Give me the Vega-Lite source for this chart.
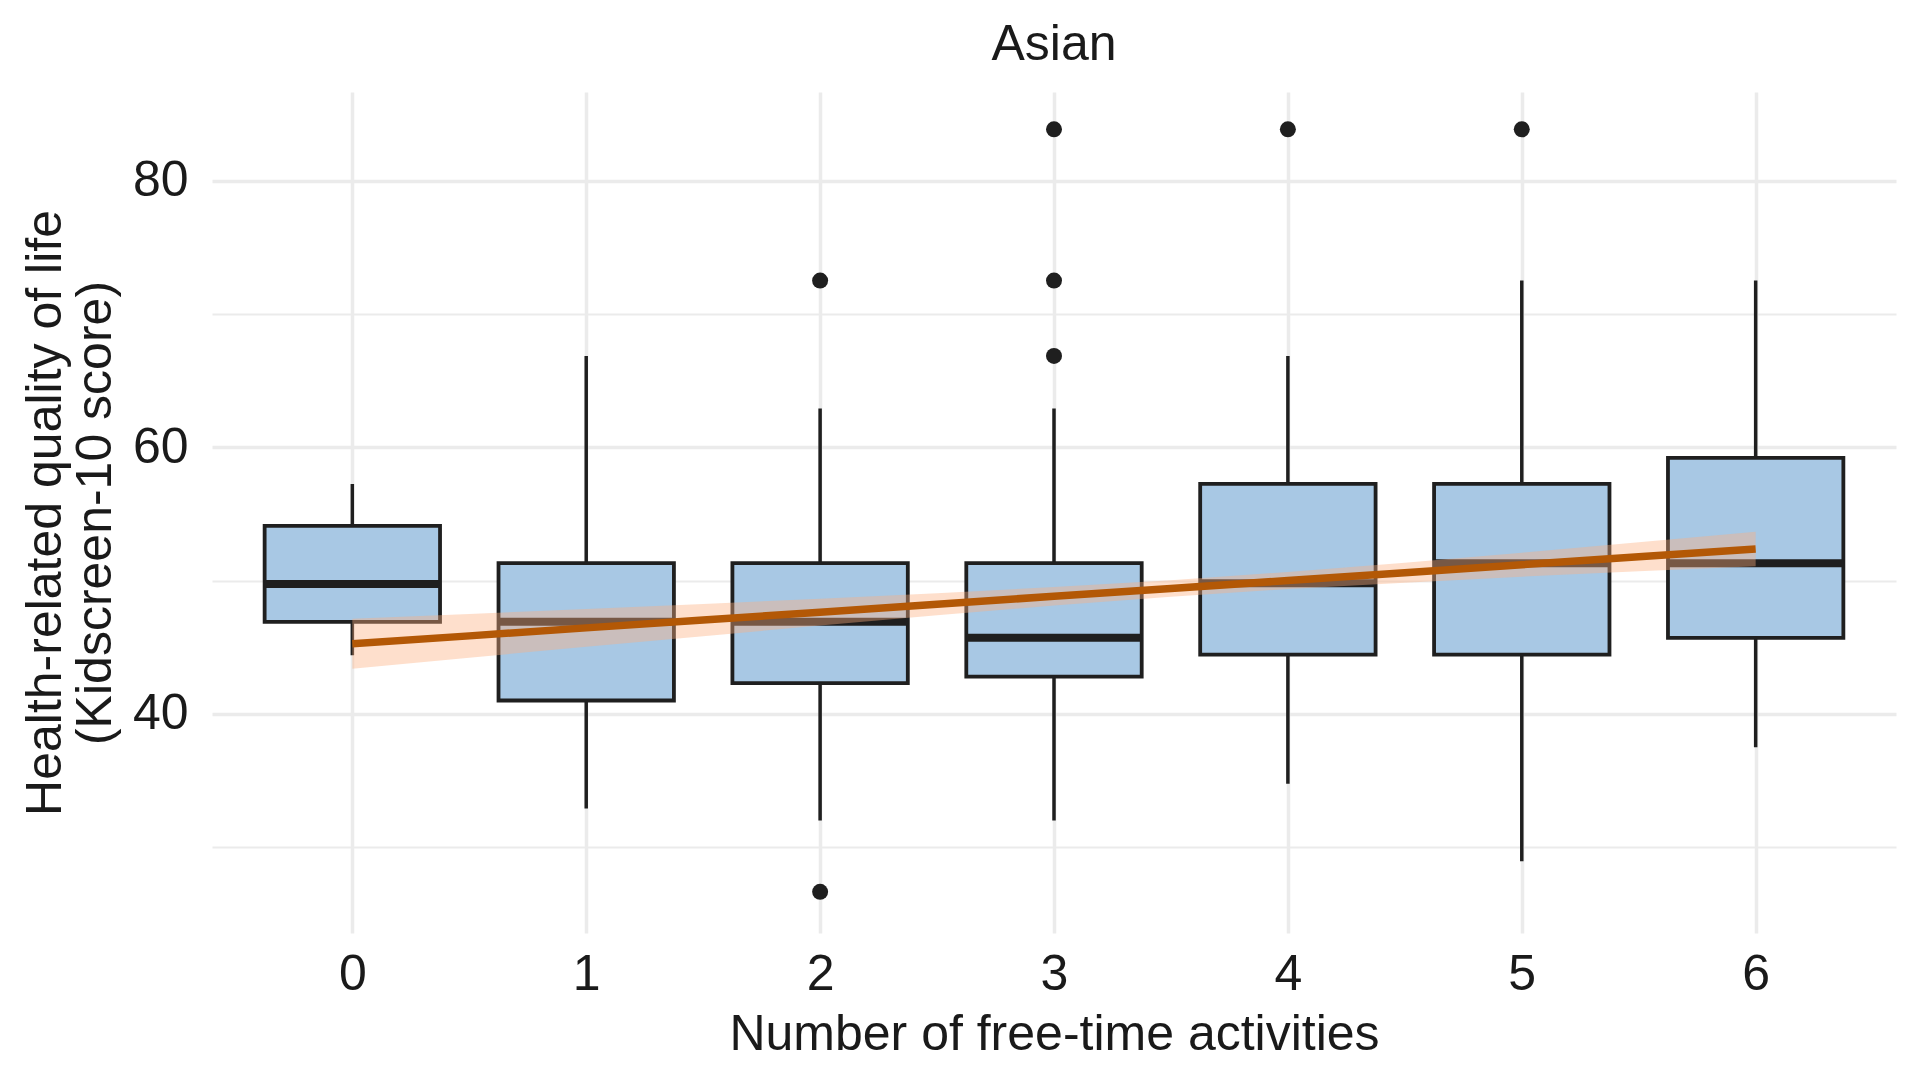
{
  "$schema": "https://vega.github.io/schema/vega-lite/v6.json",
  "width": 1684,
  "height": 841,
  "autosize": {"type": "none"},
  "padding": {"left": 212, "top": 92, "right": 24, "bottom": 147},
  "background": "white",
  "config": {
    "view": {"stroke": null},
    "font": "Liberation Sans",
    "axis": {
      "labelFont": "Liberation Sans",
      "titleFont": "Liberation Sans",
      "labelFontSize": 50,
      "titleFontSize": 50,
      "titleFontWeight": "normal",
      "labelColor": "#1a1a1a",
      "titleColor": "#1a1a1a",
      "ticks": false,
      "domain": false,
      "grid": true,
      "gridColor": "#ebebeb",
      "labelOverlap": false,
      "labelFlush": false
    }
  },
  "title": {
    "text": "Asian",
    "fontSize": 50,
    "fontWeight": "normal",
    "font": "Liberation Sans",
    "color": "#1a1a1a",
    "anchor": "middle",
    "frame": "group",
    "baseline": "alphabetic",
    "offset": -18
  },
  "datasets": {
    "boxes": [
      {"activities": 0, "lower": 44.4, "q1": 46.9, "median": 49.75, "q3": 54.1, "upper": 57.25},
      {"activities": 1, "lower": 32.9, "q1": 41.0, "median": 46.9, "q3": 51.3, "upper": 66.85},
      {"activities": 2, "lower": 32.0, "q1": 42.3, "median": 46.9, "q3": 51.3, "upper": 62.9},
      {"activities": 3, "lower": 32.0, "q1": 42.8, "median": 45.7, "q3": 51.3, "upper": 62.9},
      {"activities": 4, "lower": 34.75, "q1": 44.45, "median": 49.8, "q3": 57.25, "upper": 66.85},
      {"activities": 5, "lower": 28.95, "q1": 44.45, "median": 51.3, "q3": 57.25, "upper": 72.5},
      {"activities": 6, "lower": 37.5, "q1": 45.7, "median": 51.3, "q3": 59.2, "upper": 72.5}
    ],
    "outliers": [
      {"activities": 2, "score": 72.5},
      {"activities": 2, "score": 26.65},
      {"activities": 3, "score": 83.85},
      {"activities": 3, "score": 72.5},
      {"activities": 3, "score": 66.85},
      {"activities": 4, "score": 83.85},
      {"activities": 5, "score": 83.85}
    ],
    "trend": [
      {"activities": 0, "fit": 45.26, "lo": 43.39, "hi": 47.13},
      {"activities": 0.5, "fit": 45.85, "lo": 44.21, "hi": 47.49},
      {"activities": 1, "fit": 46.45, "lo": 45.03, "hi": 47.87},
      {"activities": 1.5, "fit": 47.04, "lo": 45.83, "hi": 48.25},
      {"activities": 2, "fit": 47.63, "lo": 46.62, "hi": 48.64},
      {"activities": 2.5, "fit": 48.22, "lo": 47.39, "hi": 49.05},
      {"activities": 3, "fit": 48.82, "lo": 48.13, "hi": 49.51},
      {"activities": 3.5, "fit": 49.41, "lo": 48.79, "hi": 50.03},
      {"activities": 4, "fit": 50.0, "lo": 49.36, "hi": 50.64},
      {"activities": 4.5, "fit": 50.59, "lo": 49.84, "hi": 51.34},
      {"activities": 5, "fit": 51.19, "lo": 50.29, "hi": 52.09},
      {"activities": 5.5, "fit": 51.78, "lo": 50.69, "hi": 52.87},
      {"activities": 6, "fit": 52.37, "lo": 51.07, "hi": 53.67}
    ]
  },
  "encoding": {
    "x": {
      "field": "activities",
      "type": "quantitative",
      "scale": {"domain": [-0.6, 6.6], "nice": false, "zero": false, "padding": 0},
      "axis": {
        "values": [0, 1, 2, 3, 4, 5, 6],
        "format": "d",
        "gridWidth": 3.5,
        "labelPadding": 16,
        "title": "Number of free-time activities",
        "titlePadding": 10
      }
    }
  },
  "layer": [
    {
      "data": {"name": "boxes"},
      "mark": {"type": "rule", "color": "#1f1f1f", "strokeWidth": 3.5},
      "encoding": {
        "y": {
          "field": "lower",
          "type": "quantitative",
          "scale": {"domain": [23.56, 86.65], "nice": false, "zero": false},
          "title": ["Health-related quality of life", "(Kidscreen-10 score)"],
          "axis": {
            "values": [30, 40, 50, 60, 70, 80],
            "labelExpr": "datum.value % 20 === 0 ? datum.label : ''",
            "gridWidth": {"condition": {"test": "datum.value % 20 === 0", "value": 3.5}, "value": 2},
            "labelPadding": 24,
            "titlePadding": 12,
            "titleLineHeight": 50
          }
        },
        "y2": {"field": "upper"}
      }
    },
    {
      "data": {"name": "boxes"},
      "mark": {"type": "bar", "width": 175.4, "fill": "#a8c8e4", "stroke": "#1f1f1f", "strokeWidth": 3.8},
      "encoding": {
        "y": {"field": "q1", "type": "quantitative", "title": ["Health-related quality of life", "(Kidscreen-10 score)"]},
        "y2": {"field": "q3"}
      }
    },
    {
      "data": {"name": "boxes"},
      "mark": {"type": "tick", "orient": "horizontal", "size": 175.4, "thickness": 8, "color": "#1f1f1f", "opacity": 1},
      "encoding": {
        "y": {"field": "median", "type": "quantitative", "title": ["Health-related quality of life", "(Kidscreen-10 score)"]}
      }
    },
    {
      "data": {"name": "outliers"},
      "mark": {"type": "point", "shape": "circle", "filled": true, "size": 256, "color": "#1f1f1f", "opacity": 1},
      "encoding": {
        "y": {"field": "score", "type": "quantitative", "title": ["Health-related quality of life", "(Kidscreen-10 score)"]}
      }
    },
    {
      "data": {"name": "trend"},
      "mark": {"type": "area", "color": "#fdae7f", "opacity": 0.4},
      "encoding": {
        "y": {"field": "lo", "type": "quantitative", "title": ["Health-related quality of life", "(Kidscreen-10 score)"]},
        "y2": {"field": "hi"}
      }
    },
    {
      "data": {"name": "trend"},
      "mark": {"type": "line", "color": "#b35806", "strokeWidth": 7.5},
      "encoding": {
        "y": {"field": "fit", "type": "quantitative", "title": ["Health-related quality of life", "(Kidscreen-10 score)"]}
      }
    }
  ]
}
